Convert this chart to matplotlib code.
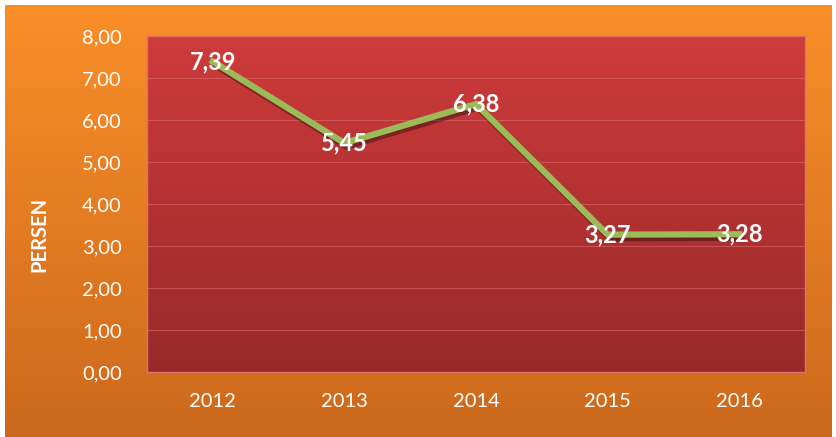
import numpy as np
from matplotlib import pyplot as plt
from matplotlib import rcParams
import matplotlib.patheffects as pe

rcParams['font.family'] = ['Lato', 'DejaVu Sans']

years = ['2012', '2013', '2014', '2015', '2016']
persen = [7.39, 5.45, 6.38, 3.27, 3.28]
labels = ['7,39', '5,45', '6,38', '3,27', '3,28']
yticks = [0, 1, 2, 3, 4, 5, 6, 7, 8]

fig = plt.figure(figsize=(8.37, 4.37), dpi=100)
fig.patch.set_facecolor('white')

# orange gradient background
bg = fig.add_axes([5 / 837, 0, 827 / 837, 432 / 437])
grad = np.linspace(0, 1, 256).reshape(-1, 1)
top = np.array([0.98, 0.56, 0.16])
bot = np.array([0.80, 0.41, 0.11])
bg.imshow(top + (bot - top) * grad[:, :, None], aspect='auto', extent=[0, 1, 0, 1])
bg.set_axis_off()

ax = fig.add_axes([147 / 837, 65 / 437, 658 / 837, 336 / 437])
x = np.arange(len(years))
ax.set_xlim(-0.5, 4.5)
ax.set_ylim(0, 8)

# red gradient plot area
ptop = np.array([0.81, 0.23, 0.23])
pbot = np.array([0.60, 0.16, 0.16])
ax.imshow(ptop + (pbot - ptop) * grad[:, :, None], aspect='auto',
          extent=[-0.5, 4.5, 0, 8], zorder=0)
for v in yticks[1:-1]:
    ax.axhline(v, color='#d96a6a', lw=0.8, alpha=0.6, zorder=1)

ax.plot(x, persen, color='#9bbb59', lw=4.5, solid_joinstyle='miter', zorder=3,
        path_effects=[pe.SimpleLineShadow(offset=(1.5, -2.5), shadow_color='black', alpha=0.35),
                      pe.Normal()])
for xi, yi, lab in zip(x, persen, labels):
    ax.text(xi, yi, lab, color='white', fontsize=17, fontweight='bold',
            ha='center', va='center', zorder=4)

ax.set_xticks(x, years)
ax.set_yticks(yticks, [('%.2f' % v).replace('.', ',') for v in yticks])
ax.tick_params(colors='white', labelsize=14.5, length=0)
ax.tick_params(axis='y', pad=18)
ax.tick_params(axis='x', pad=15)
for s in ax.spines.values():
    s.set_color('#e07070')
    s.set_linewidth(1)
ax.set_ylabel('PERSEN', color='white', fontsize=14.5, fontweight='bold')
ax.yaxis.set_label_coords(-0.149, 0.41)

plt.savefig('out.png', dpi=100, facecolor=fig.get_facecolor())
